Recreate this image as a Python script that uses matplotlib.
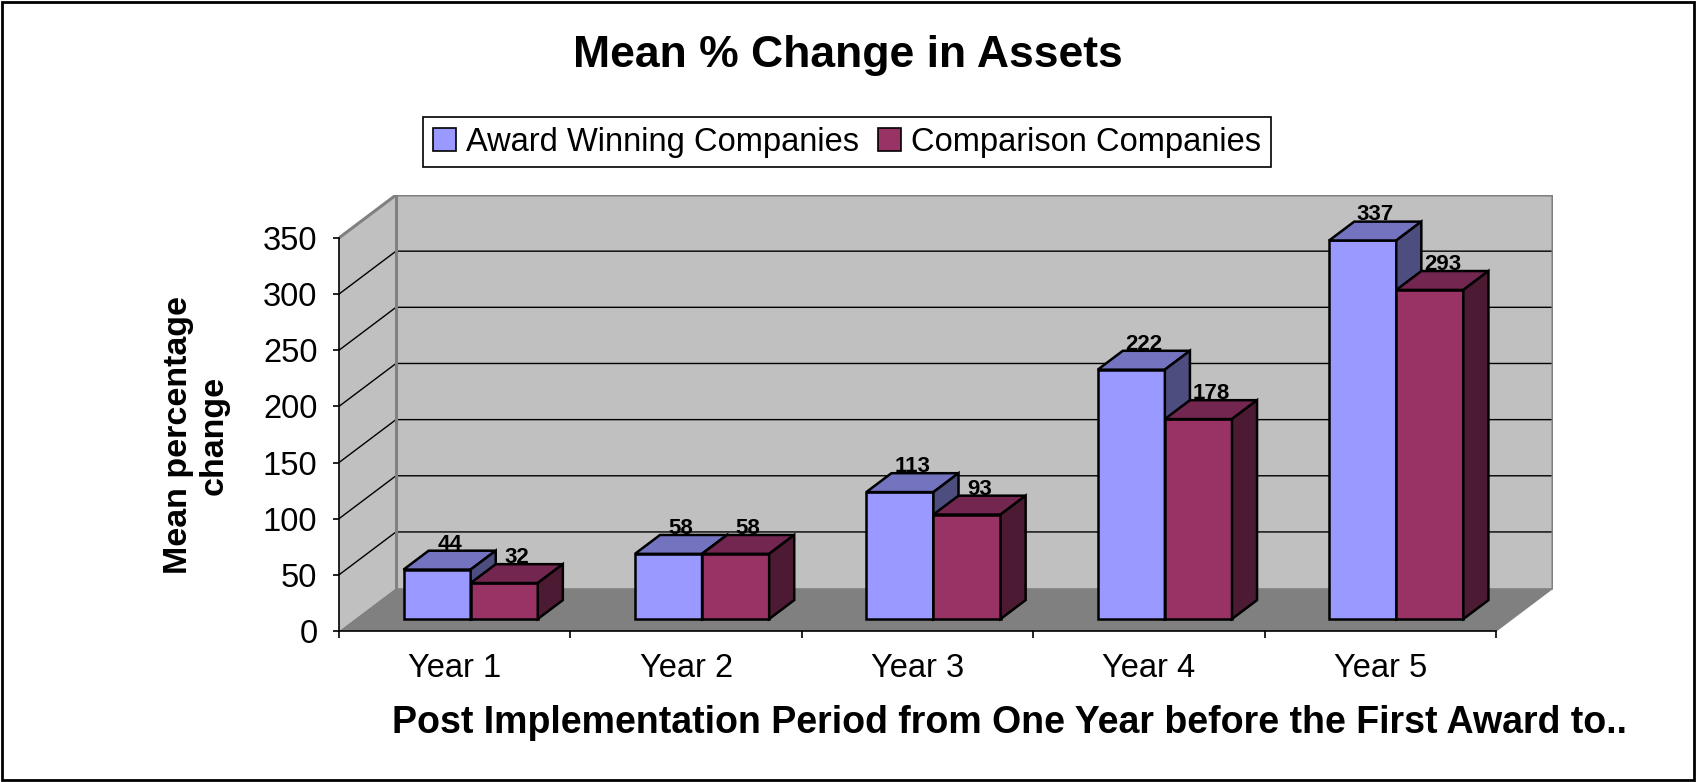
"""Mean % change in assets - Excel style 3D clustered columns"""

import matplotlib
matplotlib.use("Agg")
import matplotlib.pyplot as plt
from matplotlib.patches import Polygon, Patch, Rectangle
import numpy as np

plt.rcParams["font.family"] = ["Liberation Sans", "DejaVu Sans"]

# data
years = ["Year 1", "Year 2", "Year 3", "Year 4", "Year 5"]
award = [44, 58, 113, 222, 337]
comparison = [32, 58, 93, 178, 293]
series_names = ["Award Winning Companies", "Comparison Companies"]
y_ticks = [0, 50, 100, 150, 200, 250, 300, 350]

# style: front / top / side colours for each series
FACES = {
    "award": ("#9999ff", "#7373bf", "#4d4d80"),
    "comp": ("#993366", "#732650", "#4d1a33"),
}
WALL = "#c0c0c0"
FLOOR = "#808080"
EDGE = "#808080"

# fake 3D depth (data units)
DDX = 0.2463
DDY = 38.2
F0, F1 = 0.28, 0.72   # bar depth inside the box
BAR_W = 0.29
YMAX = 350

fig = plt.figure(figsize=(16.97, 7.82), dpi=100)
ax = fig.add_axes([0.19976, 0.19309, 0.71538, 0.55754])
ax.set_xlim(0, len(years) + DDX)
ax.set_ylim(0, YMAX + DDY)
ax.patch.set_visible(False)

n = len(years)

# walls and floor
ax.add_patch(Polygon([(DDX, DDY), (n + DDX, DDY), (n + DDX, YMAX + DDY), (DDX, YMAX + DDY)],
                     closed=True, facecolor=WALL, edgecolor="none", zorder=0))
ax.add_patch(Polygon([(0, 0), (DDX, DDY), (DDX, YMAX + DDY), (0, YMAX)],
                     closed=True, facecolor=WALL, edgecolor="none", zorder=0))
ax.add_patch(Polygon([(0, 0), (n, 0), (n + DDX, DDY), (DDX, DDY)],
                     closed=True, facecolor=FLOOR, edgecolor="none", zorder=0.5))

# gridlines on walls
for v in y_ticks[1:-1]:
    ax.plot([0, DDX, n + DDX], [v, v + DDY, v + DDY], color="black", lw=1, zorder=0.3)

# wall outlines
ax.plot([0, DDX, n + DDX, n + DDX], [YMAX, YMAX + DDY, YMAX + DDY, DDY], color=EDGE, lw=2.2, zorder=0.4)
ax.plot([DDX, DDX], [DDY, YMAX + DDY], color=EDGE, lw=2.2, zorder=0.4)
ax.plot([n, n + DDX], [0, DDY], color=EDGE, lw=1, zorder=0.6)

# bars
x = np.arange(n)
lefts = {"award": x + 0.5 - BAR_W, "comp": x + 0.5}
vals = {"award": award, "comp": comparison}

for i in range(n):
    for key in ["award", "comp"]:
        front, top, side = FACES[key]
        x0 = lefts[key][i]
        x1 = x0 + BAR_W
        v = vals[key][i]
        ax.bar(x0 + F0 * DDX, v, width=BAR_W, bottom=F0 * DDY, align="edge",
               color=front, edgecolor="black", linewidth=1.8, zorder=2 + i)
        ax.add_patch(Polygon([(x0 + F0 * DDX, v + F0 * DDY), (x1 + F0 * DDX, v + F0 * DDY),
                              (x1 + F1 * DDX, v + F1 * DDY), (x0 + F1 * DDX, v + F1 * DDY)],
                             closed=True, facecolor=top, edgecolor="black", lw=1.8, zorder=2 + i))
        ax.add_patch(Polygon([(x1 + F0 * DDX, F0 * DDY), (x1 + F1 * DDX, F1 * DDY),
                              (x1 + F1 * DDX, v + F1 * DDY), (x1 + F0 * DDX, v + F0 * DDY)],
                             closed=True, facecolor=side, edgecolor="black", lw=1.8, zorder=2 + i))
        ax.text(x0 + BAR_W / 2 + 0.5 * DDX, v + F1 * DDY + 1, str(v),
                ha="center", va="baseline", fontsize=16, fontweight="bold", zorder=10)

# axes
for s in ["top", "right"]:
    ax.spines[s].set_visible(False)
ax.spines["left"].set_bounds(0, YMAX)
ax.spines["bottom"].set_bounds(0, n)
for s in ["left", "bottom"]:
    ax.spines[s].set_color("black")
    ax.spines[s].set_linewidth(1.2)
    ax.spines[s].set_zorder(1)

ax.set_yticks(y_ticks)
ax.set_yticklabels([str(t) for t in y_ticks], fontsize=23.5)
ax.tick_params(axis="y", direction="out", length=4.5, width=1.2, pad=11)

ax.set_xticks(np.arange(n + 1))
ax.set_xticklabels([])
ax.set_xticks(x + 0.5, minor=True)
ax.set_xticklabels(years, minor=True, fontsize=23.5)
ax.tick_params(axis="x", which="major", direction="out", length=5, width=1.2)
ax.tick_params(axis="x", which="minor", length=0, pad=16)

# texts
fig.text(848 / 1697, 1 - 56 / 782, "Mean % Change in Assets",
         ha="center", va="center", fontsize=32, fontweight="bold")
fig.text(196 / 1697, 1 - 435 / 782, "Mean percentage\nchange", rotation=90,
         ha="center", va="center", fontsize=24.5, fontweight="bold", multialignment="center")
fig.text(1009 / 1697, 1 - 723 / 782,
         "Post Implementation Period from One Year before the First Award to..",
         ha="center", va="center", fontsize=27, fontweight="bold")

handles = [Patch(facecolor=FACES["award"][0], edgecolor="black", lw=1.2),
           Patch(facecolor=FACES["comp"][0], edgecolor="black", lw=1.2)]
leg = fig.legend(handles, series_names, loc="center",
                 bbox_to_anchor=(847 / 1697, 1 - 142 / 782), ncol=2, fontsize=23.5,
                 frameon=True, fancybox=False, edgecolor="black", framealpha=1,
                 borderpad=0.3, handlelength=0.7, handleheight=0.7,
                 handletextpad=0.3, columnspacing=0.6, borderaxespad=0)
leg.get_frame().set_linewidth(1.2)

# outer border
fig.patches.append(Rectangle((0.001, 0.002), 0.997, 0.996, transform=fig.transFigure,
                             fill=False, edgecolor="black", lw=2))

fig.savefig("out.png", dpi=100)
